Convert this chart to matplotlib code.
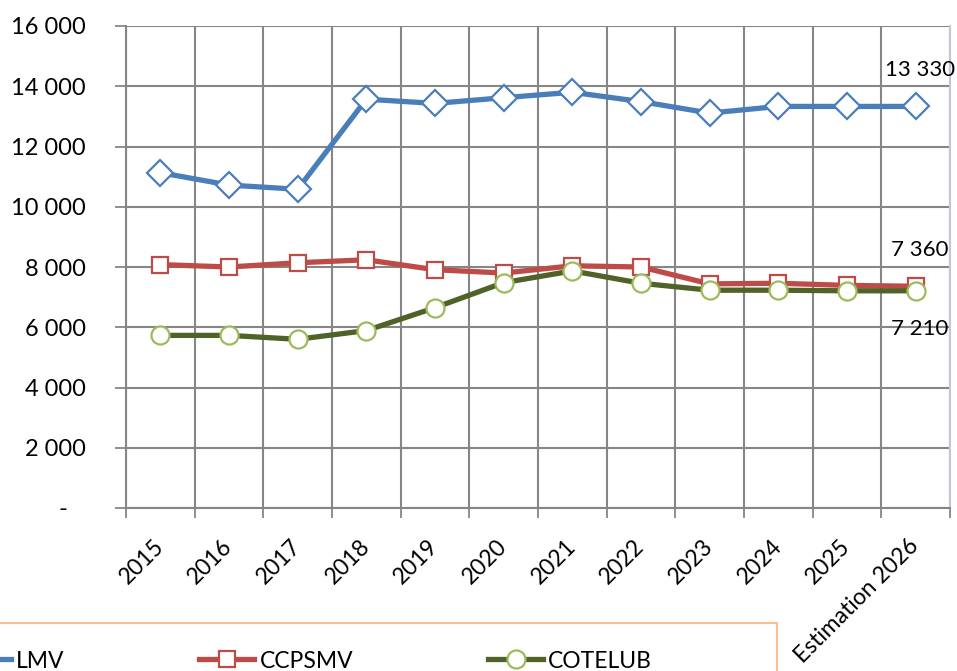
import matplotlib
matplotlib.use("Agg")
import matplotlib.pyplot as plt
import numpy as np
from matplotlib.lines import Line2D
from matplotlib.patches import Rectangle
from matplotlib.ticker import FuncFormatter, MultipleLocator

plt.rcParams["font.family"] = ["Lato", "DejaVu Sans"]

years = ["2015", "2016", "2017", "2018", "2019", "2020", "2021", "2022",
         "2023", "2024", "2025", "Estimation 2026"]
lmv = [11130, 10720, 10580, 13570, 13430, 13620, 13800, 13490, 13110, 13330, 13330, 13330]
ccpsmv = [8080, 8000, 8140, 8240, 7910, 7800, 8040, 8000, 7440, 7460, 7390, 7360]
cotelub = [5730, 5730, 5600, 5890, 6650, 7480, 7870, 7460, 7230, 7230, 7210, 7210]

series = [
    ("LMV", lmv, "#4A7EBB", "D", "#4A7EBB", 13, "13 330", 36),
    ("CCPSMV", ccpsmv, "#BE4B48", "s", "#BE4B48", 12, "7 360", 36),
    ("COTELUB", cotelub, "#4F6228", "o", "#9BBB59", 13, "7 210", -38),
]

fig = plt.figure(figsize=(9.57, 6.71), dpi=100)
ax = fig.add_axes([126 / 957, 1 - 508 / 671, 824 / 957, 482 / 671])

x = np.arange(len(years))
grid_col = "#868686"

for name, vals, col, mk, mcol, ms, lab, dy in series:
    ax.plot(x, vals, color=col, lw=3.8, marker=mk, ms=ms, mfc="white",
            mec=mcol, mew=1.6, zorder=3)
    ax.annotate(lab, (x[-1], vals[-1]), xytext=(4, dy), textcoords="offset pixels",
                ha="center", va="center", fontsize=16)

ax.set_xlim(-0.5, len(years) - 0.5)
ax.set_ylim(0, 16000)
ax.yaxis.set_major_locator(MultipleLocator(2000))


def fmt(v, _):
    if v == 0:
        return "-   "
    return f"{v:,.0f}".replace(",", " ")


ax.yaxis.set_major_formatter(FuncFormatter(fmt))
ax.set_xticks(x)
ax.set_xticklabels(years, rotation=45, ha="right", va="center",
                   rotation_mode="anchor", fontsize=16.5)
ax.set_xticks(np.arange(len(years) + 1) - 0.5, minor=True)
ax.tick_params(axis="x", which="major", length=0, pad=25)
ax.tick_params(axis="x", which="minor", length=7, color=grid_col, width=1.3)
ax.tick_params(axis="y", which="major", length=8, direction="out",
               color=grid_col, width=1.3, labelsize=17, pad=21)

ax.grid(True, axis="y", which="major", color=grid_col, lw=1.5)
ax.grid(True, axis="x", which="minor", color=grid_col, lw=1.5)
ax.set_axisbelow(True)
ax.spines["top"].set_visible(False)
ax.spines["right"].set_color("#C8C4DC")
ax.spines["right"].set_linewidth(1.5)
for side in ["left", "bottom"]:
    ax.spines[side].set_color(grid_col)
    ax.spines[side].set_linewidth(1.5)

handles = [Line2D([], [], color=col, lw=3.8, marker=mk, ms=ms, mfc="white",
                  mec=mcol, mew=1.6)
           for name, vals, col, mk, mcol, ms, lab, dy in series]
fig.legend(handles, [s[0] for s in series], loc="center left",
           bbox_to_anchor=(-65 / 957, 1 - 661 / 671), ncol=3, frameon=False,
           fontsize=16.5, handlelength=2.4, handletextpad=0.22, columnspacing=5.9)
fig.patches.append(Rectangle((-0.02, -0.05), 0.02 + 777 / 957, 0.05 + 48 / 671,
                             transform=fig.transFigure, fill=False,
                             edgecolor="#F9BF8F", lw=1.5))

fig.savefig("out.png", dpi=100)
